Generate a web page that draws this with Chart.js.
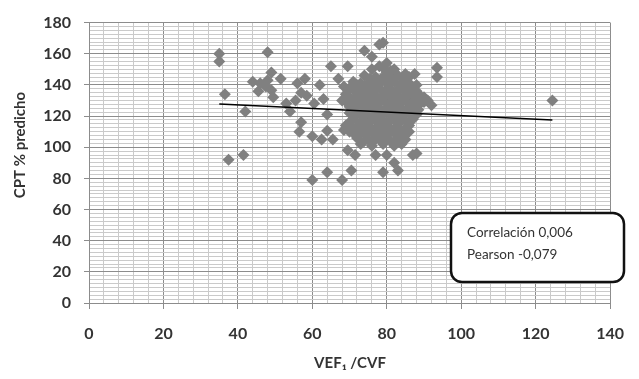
<!DOCTYPE html>
<html>
<head>
<meta charset="utf-8">
<script src="https://cdn.jsdelivr.net/npm/chart.js@4.4.0/dist/chart.umd.min.js"></script>
<style>
  html, body { margin: 0; padding: 0; background: #fff; }
</style>
</head>
<body>
<canvas id="chart" width="639" height="379"></canvas>
<script>
// VEF1/CVF (x) vs CPT % predicho (y)
var leftPoints = [
    [35, 160], [35, 155], [48, 161], [36.5, 134], [42, 123], [37.5, 92], [41.5, 95],
    [44, 142], [46, 141], [48, 143], [49, 148], [51.5, 144], [45.5, 136], [49, 136.5],
    [49.5, 132], [47.5, 139], [53, 128], [54, 123], [56, 141], [58, 144], [57, 135],
    [58.5, 133], [55.5, 130], [60.5, 128], [62, 140], [63, 131], [64, 121]
]
var midPoints = [
    [65, 152], [69.5, 152], [67, 144], [68.5, 139],
    [57, 116], [56.5, 110], [60, 107], [62.5, 105], [64, 110.5], [65.5, 105], [68.5, 111],
    [69.5, 98], [71.5, 95], [77, 95], [80, 95], [82, 90], [87, 95], [88, 96],
    [60, 79], [64, 84], [68, 79], [70.5, 85], [79, 84], [83, 85]
]
var topRightPoints = [
    [74, 162], [78, 166], [79, 167], [76, 158], [80, 154], [85, 147], [87.5, 147],
    [93.5, 151], [93.5, 145], [90, 129], [92, 127], [124.5, 130]
]
var corePoints = [
    [76, 150], [79, 151], [82, 150], [80, 148], [78, 152], [81, 149],
    [74, 146], [77, 145], [80, 146], [83, 146], [86, 145],
    [75.5, 144], [78.5, 144], [81.5, 144], [84.5, 144],
    [71, 142], [73, 141], [76, 142], [79, 143], [82, 142], [85, 141], [88, 140],
    [72, 140], [74.5, 140], [77.5, 140], [80.5, 140], [83.5, 140], [86.5, 140],
    [70, 138], [73, 137], [75, 138], [78, 138], [81, 137], [84, 138], [87, 137],
    [71.5, 136], [74, 136], [76.5, 136], [79.5, 136], [82.5, 136], [85.5, 136], [88, 136],
    [69, 134], [72, 133], [75, 134], [77, 133], [80, 134], [83, 133], [86, 134], [89, 133],
    [70, 132], [73, 132], [76, 132], [78.5, 132], [81.5, 132], [84.5, 132], [87.5, 132], [90, 132],
    [68, 130], [71, 129], [74, 130], [76, 129], [79, 130], [82, 129], [85, 130], [88, 129], [91, 130],
    [69.5, 128], [72.5, 128], [75, 128], [77.5, 128], [80.5, 128], [83.5, 128], [86.5, 128], [89, 128],
    [70, 126], [73, 125], [75, 126], [78, 125], [81, 126], [84, 125], [87, 126],
    [71.5, 124], [74, 124], [76.5, 124], [79.5, 124], [82.5, 124], [85.5, 124], [88.5, 124],
    [70, 122], [72, 121], [75, 122], [77, 121], [80, 122], [83, 121], [86, 122], [88, 121],
    [71, 120], [73.5, 120], [76, 120], [78.5, 120], [81.5, 120], [84, 120], [87, 120],
    [71, 118], [74, 117], [76, 118], [79, 117], [82, 118], [85, 117], [87, 118],
    [70, 116], [73, 116], [75.5, 116], [77.5, 116], [80.5, 116], [83.5, 116], [86, 116],
    [69, 114], [72, 113], [75, 114], [78, 113], [80, 114], [83, 113], [86, 114],
    [71, 112], [74, 112], [77, 112], [79.5, 112], [82, 112], [85, 112],
    [70, 110], [73, 109], [76, 110], [78, 109], [81, 110], [84, 109], [86, 110],
    [71.5, 108], [74.5, 108], [77, 108], [79.5, 108], [82.5, 108], [85, 108],
    [72, 106], [75, 105], [77, 106], [80, 105], [83, 106], [85, 105],
    [74, 104], [76.5, 104], [78.5, 104], [81, 104], [83.5, 104],
    [73, 102], [76, 101], [79, 102], [82, 101], [84, 102]
]
var trendX = [35, 124.5]
var trendY = [127.7, 117.5]
var boxLines = ['Correlación 0,006', 'Pearson -0,079']
var xTitle = 'VEF\u2081 /CVF'
var yTitle = 'CPT % predicho'

var majorGrid = '#8c8c8c'
var minorGrid = '#cacaca'

var allPoints = leftPoints.concat(midPoints, topRightPoints, corePoints)
var scatterData = allPoints.map(p => ({ x: p[0], y: p[1] }))
var trendData = trendX.map((x, i) => ({ x: x, y: trendY[i] }))

function gridTicks(max, step) {
    var out = []
    for (var i = 0; i * step <= max + 1e-9; i++) out.push({ value: i * step })
    return out
}
function isMajor(v) { return Math.abs(v / 20 - Math.round(v / 20)) < 1e-6 }

var extras = {
    id: 'extras',
    afterDraw: function (chart) {
        var ctx = chart.ctx
        ctx.save()
        ctx.fillStyle = '#333'
        ctx.font = 'bold 15px Lato, "DejaVu Sans"'
        ctx.textAlign = 'center'
        ctx.textBaseline = 'middle'
        ctx.fillText(xTitle, 350, 363)
        ctx.save()
        ctx.translate(20, 145)
        ctx.rotate(-Math.PI / 2)
        ctx.fillText(yTitle, 0, 0)
        ctx.restore()

        // text box
        var bx = 451, by = 213, bw = 173, bh = 69, r = 11
        ctx.beginPath()
        ctx.moveTo(bx + r, by)
        ctx.lineTo(bx + bw - r, by)
        ctx.arcTo(bx + bw, by, bx + bw, by + r, r)
        ctx.lineTo(bx + bw, by + bh - r)
        ctx.arcTo(bx + bw, by + bh, bx + bw - r, by + bh, r)
        ctx.lineTo(bx + r, by + bh)
        ctx.arcTo(bx, by + bh, bx, by + bh - r, r)
        ctx.lineTo(bx, by + r)
        ctx.arcTo(bx, by, bx + r, by, r)
        ctx.closePath()
        ctx.fillStyle = '#fff'
        ctx.fill()
        ctx.lineWidth = 2.5
        ctx.strokeStyle = '#111'
        ctx.stroke()

        ctx.fillStyle = '#333'
        ctx.font = '13.5px Lato'
        ctx.textAlign = 'left'
        ctx.fillText(boxLines[0], 467, 233)
        ctx.fillText(boxLines[1], 467, 255)
        ctx.restore()
    }
}

var ctx = document.getElementById('chart')

new Chart(ctx, {
    type: 'scatter',
    data: {
        datasets: [{
            label: 'Tendencia',
            data: trendData,
            showLine: true,
            borderColor: '#000',
            borderWidth: 1.5,
            pointRadius: 0,
            order: 0
        }, {
            label: 'CPT',
            data: scatterData,
            pointStyle: 'rectRot',
            pointRadius: 6,
            pointHoverRadius: 6,
            backgroundColor: '#808080',
            borderWidth: 0,
            order: 1
        }]
    },
    plugins: [extras],
    options: {
        responsive: false,
        animation: false,
        layout: { padding: { left: 0, top: 19, right: 18, bottom: 0 } },
        plugins: {
            legend: { display: false },
            tooltip: { enabled: false }
        },
        scales: {
            x: {
                type: 'linear',
                min: 0,
                max: 140,
                afterBuildTicks: function (scale) { scale.ticks = gridTicks(140, 4) },
                afterFit: function (scale) { scale.height = 76 },
                ticks: {
                    autoSkip: false,
                    maxRotation: 0,
                    padding: 15,
                    color: '#333',
                    font: { family: 'Lato', size: 16, weight: 'bold' },
                    callback: function (v) { return isMajor(v) ? v : '' }
                },
                grid: {
                    tickLength: 6,
                    color: function (c) { return c.tick && isMajor(c.tick.value) ? majorGrid : minorGrid },
                    tickColor: function (c) { return c.tick && isMajor(c.tick.value) ? majorGrid : 'rgba(0,0,0,0)' }
                },
                border: { color: majorGrid }
            },
            y: {
                type: 'linear',
                min: 0,
                max: 180,
                afterBuildTicks: function (scale) { scale.ticks = gridTicks(180, 2.5) },
                afterFit: function (scale) { scale.width = 89 },
                ticks: {
                    autoSkip: false,
                    padding: 13,
                    color: '#333',
                    font: { family: 'Lato', size: 16, weight: 'bold' },
                    callback: function (v) { return isMajor(v) ? v : '' }
                },
                grid: {
                    tickLength: 5,
                    color: function (c) { return c.tick && isMajor(c.tick.value) ? majorGrid : minorGrid },
                    tickColor: function (c) { return c.tick && isMajor(c.tick.value) ? majorGrid : 'rgba(0,0,0,0)' }
                },
                border: { color: majorGrid }
            }
        }
    }
})
</script>
</body>
</html>
